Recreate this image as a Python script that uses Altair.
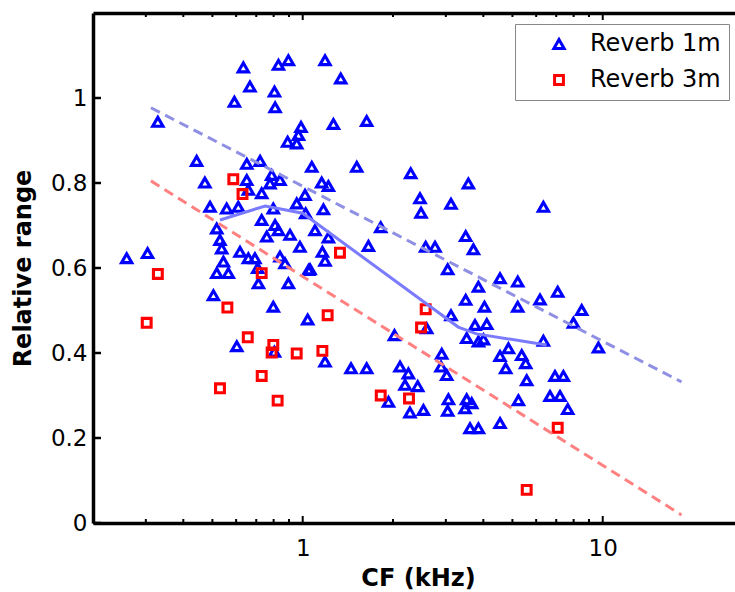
import altair as alt
import pandas as pd

# ---- data ----
series_names = ["Reverb 1m", "Reverb 3m"]

tri_cf = [0.634, 0.830, 0.896, 0.667, 0.805, 0.592, 0.809, 0.329, 0.987, 0.968,
          0.891, 0.955, 0.443, 0.721, 0.651, 1.072, 0.788, 0.840, 0.778, 0.472,
          0.651, 0.659, 0.730, 1.018, 0.955, 0.491, 0.558, 0.610, 0.517, 0.730,
          0.798, 0.809, 0.830, 0.907, 0.759, 0.979, 0.530, 0.537, 0.618, 0.659,
          0.693, 0.840, 0.873, 0.259, 0.304, 1.045, 0.544, 0.517, 0.565, 0.712,
          0.896, 0.708, 0.504, 0.798, 1.039, 0.603, 0.805, 1.187, 1.339, 1.266,
          1.634, 1.514, 2.291, 3.566, 1.157, 1.218, 2.460, 3.121, 2.480, 1.172,
          1.023, 1.820, 1.099, 1.218, 1.656, 2.570, 2.761, 3.493, 3.707, 1.163,
          1.187, 1.058, 3.043, 4.547, 5.208, 3.852, 3.493, 4.035, 5.208, 3.121,
          3.752, 4.106, 2.590, 3.520, 3.852, 4.004, 2.022, 4.850, 4.547, 5.370,
          5.537, 4.750, 5.580, 1.187, 1.449, 1.634, 2.906, 2.891, 3.020, 2.110,
          2.250, 2.193, 2.417, 5.236, 1.931, 2.278, 2.526, 3.060, 3.043, 3.520,
          3.658, 3.475, 3.612, 3.852, 4.547, 6.180, 7.079, 8.511, 7.988, 6.343,
          9.676, 6.934, 7.396, 6.673, 7.205, 7.645, 6.343]
tri_rr = [1.072, 1.078, 1.089, 1.027, 1.015, 0.991, 0.978, 0.944, 0.932, 0.913,
          0.897, 0.893, 0.852, 0.852, 0.845, 0.838, 0.819, 0.807, 0.799, 0.801,
          0.807, 0.784, 0.776, 0.772, 0.752, 0.744, 0.740, 0.744, 0.693, 0.713,
          0.740, 0.701, 0.689, 0.678, 0.674, 0.650, 0.666, 0.646, 0.638, 0.623,
          0.623, 0.627, 0.611, 0.623, 0.635, 0.595, 0.615, 0.588, 0.588, 0.564,
          0.564, 0.600, 0.536, 0.509, 0.479, 0.416, 0.403, 1.089, 1.046, 0.939,
          0.946, 0.838, 0.823, 0.799, 0.801, 0.793, 0.764, 0.751, 0.730, 0.738,
          0.729, 0.696, 0.689, 0.672, 0.652, 0.650, 0.650, 0.675, 0.644, 0.638,
          0.617, 0.597, 0.597, 0.576, 0.568, 0.556, 0.525, 0.509, 0.509, 0.489,
          0.466, 0.468, 0.458, 0.435, 0.427, 0.432, 0.442, 0.411, 0.393, 0.395,
          0.376, 0.364, 0.336, 0.380, 0.364, 0.364, 0.398, 0.368, 0.348, 0.368,
          0.352, 0.325, 0.322, 0.289, 0.285, 0.260, 0.266, 0.291, 0.264, 0.291,
          0.282, 0.270, 0.223, 0.223, 0.235, 0.526, 0.544, 0.501, 0.471, 0.429,
          0.413, 0.346, 0.346, 0.299, 0.299, 0.268, 0.744]

sq_cf = [0.587, 0.630, 0.329, 0.730, 0.561, 0.302, 0.656, 0.798, 0.788, 0.955,
         0.730, 0.530, 0.825, 1.331, 1.211, 1.163, 2.570, 2.480, 1.820, 2.261,
         5.580, 7.079]
sq_rr = [0.809, 0.774, 0.586, 0.588, 0.507, 0.471, 0.437, 0.419, 0.401, 0.399,
         0.346, 0.317, 0.288, 0.636, 0.489, 0.405, 0.503, 0.460, 0.300, 0.293,
         0.078, 0.224]

fit_cf = [0.312, 18.3]
fit1_rr = [0.977, 0.332]
fit3_rr = [0.805, 0.019]

trend_cf = [0.53, 0.75, 1.0, 3.3, 3.8, 6.5]
trend_rr = [0.713, 0.746, 0.729, 0.461, 0.445, 0.419]

x_major = [1, 10]
x_minor = [0.3, 0.4, 0.5, 0.6, 0.7, 0.8, 0.9, 2, 3, 4, 5, 6, 7, 8, 9]
y_ticks = [0, 0.2, 0.4, 0.6, 0.8, 1.0]

# ---- tables ----
pts = pd.concat([
    pd.DataFrame({"cf": tri_cf, "rr": tri_rr, "series": series_names[0]}),
    pd.DataFrame({"cf": sq_cf, "rr": sq_rr, "series": series_names[1]}),
], ignore_index=True)
fit = pd.DataFrame({"cf": fit_cf, "rr1": fit1_rr, "rr3": fit3_rr})
trend = pd.DataFrame({"cf": trend_cf, "rr": trend_rr})
xmaj = pd.DataFrame({"v": x_major})
xmin = pd.DataFrame({"v": x_minor})
ytk = pd.DataFrame({"v": y_ticks})

W, H = 642, 510
xs = alt.Scale(type="log", domain=[0.2, 27.6], nice=False)
ys = alt.Scale(domain=[0, 1.2], nice=False, zero=False)

LAB = dict(labelFont="DejaVu Sans", labelFontSize=23, labelColor="black",
           labelFlush=False, labelOverlap=False, grid=False)

legend = alt.Legend(orient="none", legendX=422, legendY=11, title=None,
                    padding=8, strokeColor="#888888", fillColor="white",
                    labelFont="DejaVu Sans", labelFontSize=24, labelColor="black",
                    symbolStrokeWidth=3, symbolOffset=24, labelOffset=19,
                    rowPadding=12)

points = alt.Chart(pts).mark_point(filled=False, strokeWidth=3.1, opacity=1).encode(
    x=alt.X("cf:Q", scale=xs, axis=alt.Axis(
        orient="bottom", values=x_major, format="~g", ticks=False, tickSize=0,
        labelPadding=14, domainColor="black", domainWidth=3.5,
        title="CF (kHz)", titleFont="DejaVu Sans", titleFontSize=24,
        titleFontWeight="bold", titleColor="black", titleX=325, titleY=62,
        titleBaseline="alphabetic", titleAlign="center", **LAB)),
    y=alt.Y("rr:Q", scale=ys, axis=alt.Axis(
        orient="left", values=y_ticks, format=".1~f", ticks=False, tickSize=0,
        labelPadding=6, domainColor="black", domainWidth=3.5,
        title="Relative range", titleFont="DejaVu Sans", titleFontSize=24,
        titleFontWeight="bold", titleColor="black", titleX=-63, titleY=255,
        titleAngle=270, titleBaseline="alphabetic", titleAlign="center", **LAB)),
    color=alt.Color("series:N", scale=alt.Scale(domain=series_names,
                    range=["#0000ff", "#ff0000"]), legend=legend),
    shape=alt.Shape("series:N", scale=alt.Scale(domain=series_names,
                    range=["triangle-up", "square"]), legend=legend),
    size=alt.Size("series:N", scale=alt.Scale(domain=series_names,
                  range=[105, 78]), legend=legend),
)

blue_fit = alt.Chart(fit).mark_line(strokeDash=[10, 6], strokeWidth=3,
                                    color="#8f8fe3").encode(
    x=alt.X("cf:Q", scale=xs, axis=None),
    y=alt.Y("rr1:Q", scale=ys, axis=None),
)

# red fit also carries the top border of the box (bottom-oriented axis moved up)
red_fit = alt.Chart(fit).mark_line(strokeDash=[10, 6], strokeWidth=3,
                                   color="#ff8080").encode(
    x=alt.X("cf:Q", scale=xs, axis=alt.Axis(
        orient="bottom", offset=-H, labels=False, domain=True,
        domainColor="black", domainWidth=3.5, ticks=False, grid=False, title=None)),
    y=alt.Y("rr3:Q", scale=ys, axis=None),
)

trend_line = alt.Chart(trend).mark_line(strokeWidth=3, color="#7b7bff").encode(
    x=alt.X("cf:Q", scale=xs, axis=None),
    y=alt.Y("rr:Q", scale=ys, axis=None),
)

# inward-pointing tick marks (MATLAB style)
def xticks(df, y0, y1):
    return alt.Chart(df).mark_rule(color="black", strokeWidth=2).encode(
        x=alt.X("v:Q", scale=xs, axis=None),
        y=alt.value(y0), y2=alt.value(y1))

ytick_rules = alt.Chart(ytk).mark_rule(color="black", strokeWidth=2.5).encode(
    y=alt.Y("v:Q", scale=ys, axis=None), x=alt.value(0), x2=alt.value(8))

chart = alt.layer(
    points, blue_fit, red_fit, trend_line,
    xticks(xmin, H, H - 4), xticks(xmaj, H, H - 7),
    xticks(xmin, 0, 4), xticks(xmaj, 0, 7), ytick_rules,
).resolve_axis(
    x="independent", y="independent"
).properties(
    width=W, height=H,
    autosize=alt.AutoSizeParams(type="none"),
    padding={"left": 93, "top": 13, "right": 0, "bottom": 69},
    background="white",
).configure_view(stroke="transparent")

chart.save("out.html", embed_options={"renderer": "svg", "actions": False})
